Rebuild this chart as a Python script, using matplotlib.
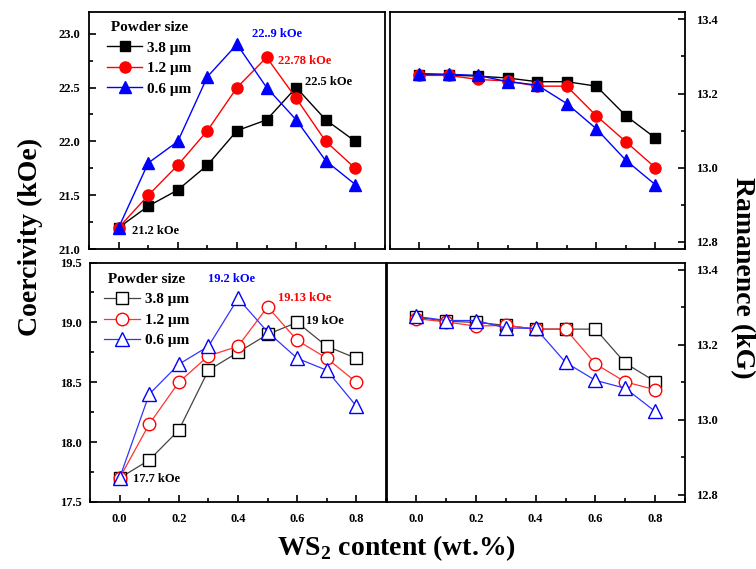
import matplotlib
matplotlib.use("Agg")
import matplotlib.pyplot as plt
from matplotlib.ticker import MultipleLocator, FormatStrFormatter

plt.rcParams['font.family'] = ['Liberation Serif', 'DejaVu Serif']
plt.rcParams['font.weight'] = 'bold'
plt.rcParams['mathtext.fontset'] = 'custom'
plt.rcParams['mathtext.rm'] = 'Liberation Serif:bold'
plt.rcParams['mathtext.bf'] = 'Liberation Serif:bold'

ws2 = [0.0, 0.1, 0.2, 0.3, 0.4, 0.5, 0.6, 0.7, 0.8]
sizes = ['3.8 \u03bcm', '1.2 \u03bcm', '0.6 \u03bcm']

# Top row (filled markers)
hc_top_38 = [21.2, 21.4, 21.55, 21.78, 22.1, 22.2, 22.5, 22.2, 22.0]
hc_top_12 = [21.2, 21.5, 21.78, 22.1, 22.5, 22.78, 22.4, 22.0, 21.75]
hc_top_06 = [21.2, 21.8, 22.0, 22.6, 22.9, 22.5, 22.2, 21.82, 21.6]
br_top_38 = [13.251, 13.250, 13.247, 13.242, 13.232, 13.232, 13.220, 13.140, 13.080]
br_top_12 = [13.249, 13.249, 13.238, 13.234, 13.220, 13.220, 13.140, 13.070, 13.000]
br_top_06 = [13.254, 13.252, 13.249, 13.232, 13.223, 13.173, 13.105, 13.020, 12.954]

# Bottom row (hollow markers)
hc_bot_38 = [17.7, 17.85, 18.1, 18.6, 18.75, 18.9, 19.0, 18.8, 18.7]
hc_bot_12 = [17.7, 18.15, 18.5, 18.72, 18.8, 19.13, 18.85, 18.7, 18.5]
hc_bot_06 = [17.7, 18.4, 18.65, 18.8, 19.2, 18.92, 18.7, 18.6, 18.3]
br_bot_38 = [13.274, 13.263, 13.260, 13.252, 13.242, 13.242, 13.242, 13.151, 13.102]
br_bot_12 = [13.270, 13.261, 13.250, 13.252, 13.242, 13.242, 13.149, 13.101, 13.080]
br_bot_06 = [13.276, 13.265, 13.265, 13.245, 13.244, 13.153, 13.105, 13.084, 13.022]

colors = ['black', 'red', 'blue']
line_colors_bot = ['#444444', '#ff3333', '#3333ff']
markers = ['s', 'o', '^']
msizes = [7, 8, 8.5]

W, H = 756, 569
fig = plt.figure(figsize=(W / 100, H / 100), dpi=100)

def ax_at(l, t, r, b):
    return fig.add_axes([l / W, 1 - b / H, (r - l) / W, (b - t) / H])

ax_tl = ax_at(89, 12, 385, 249.3)
ax_tr = ax_at(389.5, 12, 685, 249.3)
ax_bl = ax_at(90, 262.5, 386, 502)
ax_br = ax_at(386.5, 262.5, 685, 502)

def style(ax, right=False, xlabels=False):
    ax.set_xlim(-0.1, 0.9)
    ax.xaxis.set_major_locator(MultipleLocator(0.2))
    ax.xaxis.set_minor_locator(MultipleLocator(0.1))
    ax.xaxis.set_major_formatter(FormatStrFormatter('%.1f'))
    for s in ax.spines.values():
        s.set_linewidth(1.3)
    ax.tick_params(axis='both', which='both', direction='in', width=1.2,
                   labelsize=9)
    ax.tick_params(axis='both', which='major', length=5)
    ax.tick_params(axis='both', which='minor', length=3)
    ax.tick_params(axis='x', which='both', top=False, labelbottom=xlabels, pad=8)
    if right:
        ax.yaxis.tick_right()
        ax.tick_params(axis='y', which='both', left=False, right=True, pad=8)
        ax.set_ylim(12.78, 13.42)
        ax.yaxis.set_major_locator(MultipleLocator(0.2))
        ax.yaxis.set_minor_locator(MultipleLocator(0.1))
    else:
        ax.tick_params(axis='y', which='both', right=False, pad=6)
        ax.yaxis.set_major_locator(MultipleLocator(0.5))
        ax.yaxis.set_minor_locator(MultipleLocator(0.25))
    ax.yaxis.set_major_formatter(FormatStrFormatter('%.1f'))
    for lab in ax.get_xticklabels() + ax.get_yticklabels():
        lab.set_fontweight('bold')

def plot_filled(ax, series):
    for ys, c, m, ms, lab in zip(series, colors, markers, msizes, sizes):
        ax.plot(ws2, ys, color=c, lw=1.0, marker=m, ms=ms,
                mfc=c, mec=c, label=lab)

def plot_hollow(ax, series):
    for ys, c, lc, m, ms, lab in zip(series, colors, line_colors_bot, markers, msizes, sizes):
        ax.plot(ws2, ys, color=lc, lw=0.9, marker=m, ms=ms + 1,
                mfc='white', mec=c, mew=1.0, label=lab)

plot_filled(ax_tl, [hc_top_38, hc_top_12, hc_top_06])
plot_filled(ax_tr, [br_top_38, br_top_12, br_top_06])
plot_hollow(ax_bl, [hc_bot_38, hc_bot_12, hc_bot_06])
plot_hollow(ax_br, [br_bot_38, br_bot_12, br_bot_06])

ax_tl.set_ylim(21.0, 23.2)
ax_bl.set_ylim(17.5, 19.5)

style(ax_tl)
style(ax_tr, right=True)
style(ax_bl, xlabels=True)
style(ax_br, right=True, xlabels=True)

for ax, anchor in ((ax_tl, (0.022, 1.01)), (ax_bl, (0.01, 1.005))):
    leg = ax.legend(loc='upper left', bbox_to_anchor=anchor, frameon=False,
                    title=' Powder size', fontsize=11,
                    title_fontproperties={'weight': 'bold', 'size': 11},
                    alignment='left', handlelength=2.3, handletextpad=0.35,
                    labelspacing=0.45, borderaxespad=0.35)
    for t in leg.get_texts():
        t.set_fontweight('bold')

ann = dict(fontsize=9, fontweight='bold', va='center', ha='left')
ax_tl.text(0.45, 23.0, '22..9 kOe', color='blue', **ann)
ax_tl.text(0.54, 22.75, '22.78 kOe', color='red', **ann)
ax_tl.text(0.63, 22.55, '22.5 kOe', color='black', **ann)
ax_tl.text(0.045, 21.17, '21.2 kOe', color='black', **ann)
ax_bl.text(0.30, 19.36, '19.2 kOe', color='blue', **ann)
ax_bl.text(0.535, 19.2, '19.13 kOe', color='red', **ann)
ax_bl.text(0.63, 19.01, '19 kOe', color='black', **ann)
ax_bl.text(0.045, 17.695, '17.7 kOe', color='black', **ann)

fig.text(30 / W, 1 - 237 / H, 'Coercivity (kOe)', rotation=90, fontsize=20,
         fontweight='bold', ha='center', va='center')
fig.text(742 / W, 1 - 278 / H, 'Ramanence (kG)', rotation=270, fontsize=20,
         fontweight='bold', ha='center', va='center')
fig.text(397 / W, 1 - 548 / H, 'WS$_2$ content (wt.%)', fontsize=20,
         fontweight='bold', ha='center', va='center')

fig.savefig('out.png', dpi=100)
